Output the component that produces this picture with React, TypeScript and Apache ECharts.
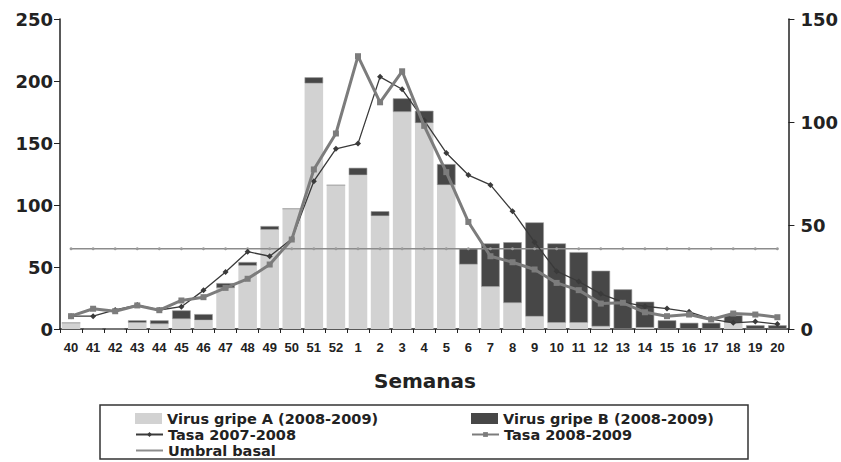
import React, { useEffect, useRef } from "react";
import * as echarts from "echarts";

const weeks = ["40","41","42","43","44","45","46","47","48","49","50","51","52","1","2","3","4","5","6","7","8","9","10","11","12","13","14","15","16","17","18","19","20"];
const virusA = [5,0,0,5,4,8,7,33,51,80,97,198,116,124,91,175,166,116,52,34,21,10,5,5,2,0,1,0,0,0,5,0,0];
const virusB = [0,0,0,2,3,7,5,4,3,3,0,5,0,6,4,11,10,17,13,35,49,76,64,57,45,32,21,7,5,5,6,3,3];
const tasa0708 = [6.2,6.2,9.2,11.6,9.2,10.8,18.7,27.6,37.4,35.2,43.6,71.5,87.2,89.7,122,116,101,85.2,74.5,69.7,57,42,28,23,17,13,11,9.9,8.3,4.8,3,3.6,2.4];
const tasa0809 = [6.2,9.8,8.6,11.4,9.1,13.8,15.4,19.9,24.3,31.2,43.3,77.2,94.6,132,109.7,124.7,98.3,75.9,51.8,35.2,32.3,28.8,22.3,18.8,12.3,12.7,8.1,6.2,7,4.6,7.5,7,5.7];
const umbral = [38.8,38.8,38.8,38.8,38.8,38.8,38.8,38.8,38.8,38.8,38.8,38.8,38.8,38.8,38.8,38.8,38.8,38.8,38.8,38.8,38.8,38.8,38.8,38.8,38.8,38.8,38.8,38.8,38.8,38.8,38.8,38.8,38.8];
const leftTicks = [0, 250, 50];
const rightTicks = [0, 150, 50];

const NAME_A = "Virus gripe A (2008-2009)";
const NAME_B = "Virus gripe B (2008-2009)";
const NAME_T1 = "Tasa 2007-2008";
const NAME_T2 = "Tasa 2008-2009";
const NAME_U = "Umbral basal";

const BIG = "'DejaVu Sans', sans-serif";
const ARIAL = "'Liberation Sans', Arial, sans-serif";

export default function App() {
  const ref = useRef<HTMLDivElement>(null);
  useEffect(() => {
    document.body.style.margin = "0";
    if (!ref.current) return;
    const chart = echarts.init(ref.current, undefined, { renderer: "svg" });
    const legendText = { fontFamily: BIG, fontWeight: "bold", fontSize: 14.5, color: "#222" };
    const mkLegend = (item: any, left: number, cy: number, h: number) => ({
      data: [item],
      left,
      top: cy - 7,
      padding: 0,
      itemWidth: 27,
      itemHeight: h,
      itemGap: 4,
      selectedMode: false,
      textStyle: legendText,
    });
    chart.setOption({
      animation: false,
      backgroundColor: "#fff",
      grid: { left: 60, right: 51, top: 19, bottom: 133, containLabel: false },
      legend: [
        mkLegend({ name: NAME_A, icon: "rect" }, 135, 418, 11),
        mkLegend({ name: NAME_B, icon: "rect", itemStyle: { borderWidth: 0 } }, 471, 418, 11),
        mkLegend({ name: NAME_T1 }, 135, 434, 6),
        mkLegend({ name: NAME_T2 }, 471, 434, 6),
        mkLegend({ name: NAME_U, itemStyle: { opacity: 0 } }, 135, 450, 6),
      ],
      graphic: [
        {
          type: "rect",
          shape: { x: 100, y: 405, width: 648, height: 54 },
          style: { fill: "none", stroke: "#333", lineWidth: 1.5 },
          silent: true,
        },
        {
          type: "text",
          x: 425,
          y: 381,
          style: {
            text: "Semanas",
            fontFamily: BIG,
            fontWeight: "bold",
            fontSize: 20,
            fill: "#222",
            textAlign: "center",
            textVerticalAlign: "middle",
          },
        },
      ],
      xAxis: {
        type: "category",
        data: weeks,
        boundaryGap: true,
        axisLine: { lineStyle: { color: "#222", width: 1.5 } },
        axisTick: { show: true, length: 4, lineStyle: { color: "#222" } },
        axisLabel: { interval: 0, margin: 12, fontFamily: ARIAL, fontWeight: "bold", fontSize: 13, color: "#222" },
      },
      yAxis: [
        {
          type: "value",
          min: leftTicks[0],
          max: leftTicks[1],
          interval: leftTicks[2],
          position: "left",
          axisLine: { show: true, lineStyle: { color: "#222", width: 1.5 } },
          axisTick: { show: true, length: 6, lineStyle: { color: "#222" } },
          splitLine: { show: false },
          axisLabel: { margin: 7, fontFamily: BIG, fontWeight: "bold", fontSize: 18, color: "#222" },
        },
        {
          type: "value",
          min: rightTicks[0],
          max: rightTicks[1],
          interval: rightTicks[2],
          position: "right",
          axisLine: { show: true, lineStyle: { color: "#222", width: 1.5 } },
          axisTick: { show: true, length: 6, lineStyle: { color: "#222" } },
          splitLine: { show: false },
          axisLabel: { margin: 12, fontFamily: BIG, fontWeight: "bold", fontSize: 18, color: "#222" },
        },
      ],
      series: [
        {
          name: NAME_A,
          type: "bar",
          stack: "v",
          data: virusA,
          yAxisIndex: 0,
          barCategoryGap: "16%",
          itemStyle: { color: "#d2d2d2" },
        },
        {
          name: NAME_B,
          type: "bar",
          stack: "v",
          data: virusB,
          yAxisIndex: 0,
          barCategoryGap: "16%",
          itemStyle: { color: "#474747", borderColor: "#9a9a9a", borderWidth: 0.6 },
        },
        {
          name: NAME_U,
          type: "line",
          data: umbral,
          yAxisIndex: 1,
          symbol: "circle",
          symbolSize: 3,
          lineStyle: { color: "#8c8c8c", width: 1.6 },
          itemStyle: { color: "#9a9a9a" },
          z: 3,
        },
        {
          name: NAME_T1,
          type: "line",
          data: tasa0708,
          yAxisIndex: 1,
          symbol: "diamond",
          symbolSize: 6,
          lineStyle: { color: "#3a3a3a", width: 1.3 },
          itemStyle: { color: "#3a3a3a" },
          z: 4,
        },
        {
          name: NAME_T2,
          type: "line",
          data: tasa0809,
          yAxisIndex: 1,
          symbol: "rect",
          symbolSize: 6,
          lineStyle: { color: "#7c7c7c", width: 3 },
          itemStyle: { color: "#7c7c7c" },
          z: 5,
        },
      ],
    });
    return () => chart.dispose();
  }, []);
  return <div ref={ref} style={{ position: "absolute", left: 0, top: 0, width: 841, height: 462 }} />;
}
